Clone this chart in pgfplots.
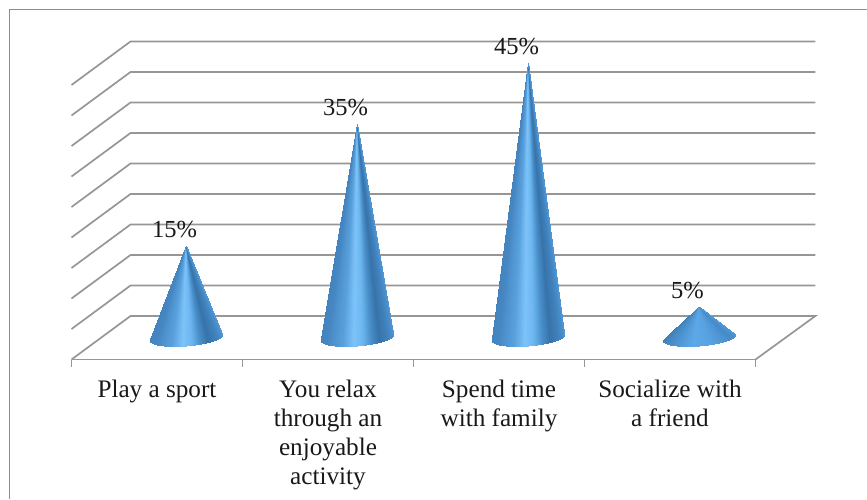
\documentclass[border=0pt]{standalone}
\usepackage{fontspec}
\setmainfont{Liberation Serif}
\usepackage{pgfplots}
\usepackage{pgfplotstable}
\usepgfplotslibrary{patchplots}
\pgfplotsset{compat=1.18}

\definecolor{gridgray}{RGB}{150,150,150}
\definecolor{framegray}{RGB}{140,140,140}

% One unit cone: apex at w=1, base ring of radius 1 in the (u,v) floor plane.
% Four rows per facet (two base corners, apex twice); back facets come first.
\pgfplotstableread{
u v w c
0.943 0.332 0 1
0.651 0.759 0 0.833
0 0 1 0.833
0 0 1 1
0.651 0.759 0 0.833
0.184 0.983 0 0.667
0 0 1 0.667
0 0 1 0.833
0.184 0.983 0 0.667
-0.332 0.943 0 0.5
0 0 1 0.5
0 0 1 0.667
-0.332 0.943 0 0.5
-0.759 0.651 0 0.333
0 0 1 0.333
0 0 1 0.5
-0.759 0.651 0 0.333
-0.983 0.184 0 0.167
0 0 1 0.167
0 0 1 0.333
-0.983 0.184 0 0.167
-0.943 -0.332 0 0
0 0 1 0
0 0 1 0.167
-0.943 -0.332 0 0
-0.871 -0.491 0 0.056
0 0 1 0.056
0 0 1 0
-0.871 -0.491 0 0.056
-0.773 -0.635 0 0.111
0 0 1 0.111
0 0 1 0.056
-0.773 -0.635 0 0.111
-0.651 -0.759 0 0.167
0 0 1 0.167
0 0 1 0.111
-0.651 -0.759 0 0.167
-0.509 -0.861 0 0.222
0 0 1 0.222
0 0 1 0.167
-0.509 -0.861 0 0.222
-0.352 -0.936 0 0.278
0 0 1 0.278
0 0 1 0.222
-0.352 -0.936 0 0.278
-0.184 -0.983 0 0.333
0 0 1 0.333
0 0 1 0.278
-0.184 -0.983 0 0.333
-0.010 -1.000 0 0.389
0 0 1 0.389
0 0 1 0.333
-0.010 -1.000 0 0.389
0.163 -0.987 0 0.444
0 0 1 0.444
0 0 1 0.389
0.163 -0.987 0 0.444
0.332 -0.943 0 0.5
0 0 1 0.5
0 0 1 0.444
0.332 -0.943 0 0.5
0.491 -0.871 0 0.556
0 0 1 0.556
0 0 1 0.5
0.491 -0.871 0 0.556
0.635 -0.773 0 0.611
0 0 1 0.611
0 0 1 0.556
0.635 -0.773 0 0.611
0.759 -0.651 0 0.667
0 0 1 0.667
0 0 1 0.611
0.759 -0.651 0 0.667
0.861 -0.509 0 0.722
0 0 1 0.722
0 0 1 0.667
0.861 -0.509 0 0.722
0.936 -0.352 0 0.778
0 0 1 0.778
0 0 1 0.722
0.936 -0.352 0 0.778
0.983 -0.184 0 0.833
0 0 1 0.833
0 0 1 0.778
0.983 -0.184 0 0.833
1.000 -0.010 0 0.889
0 0 1 0.889
0 0 1 0.833
1.000 -0.010 0 0.889
0.987 0.163 0 0.944
0 0 1 0.944
0 0 1 0.889
0.987 0.163 0 0.944
0.943 0.332 0 1
0 0 1 1
0 0 1 0.944
}\conefacets

% Category centre and percentage of each cone
\pgfplotstableread{
cat value
0.5 15
1.5 35
2.5 45
3.5 5
}\conevalues

% Oblique depth: one depth unit moves 0.345 along x and 7.13 along y
\newcommand{\cone}[3]{%
  \addplot[patch, patch type=bilinear, shader=interp, colormap name=#3,
           point meta=\thisrow{c}]
    table[x expr={#1+0.2*\thisrow{u}+0.345*(0.5+0.2*\thisrow{v})},
          y expr={#2*\thisrow{w}+7.13*(0.5+0.2*\thisrow{v})}] {\conefacets};}
\newcommand{\wall}[2]{%
  \addplot[gridgray, line width=1.7pt, line join=miter]
    coordinates {(0,#1) (0.345,#2) (4.35,#2)};}

\begin{document}
\begin{tikzpicture}[x=1pt,y=1pt]
\useasboundingbox (0,0) rectangle (867,499);
\draw[framegray, line width=1pt] (9.5,0) -- (9.5,489.5) -- (867,489.5);
\begin{axis}[
  at={(71.5pt,139.5pt)}, anchor=south west,
  x=171pt, y=6.1pt,
  xmin=0, xmax=4, ymin=0, ymax=52,
  clip=false,
  axis y line=none,
  axis x line=bottom,
  x axis line style={-, gridgray, line width=1.7pt},
  xtick={0.5,1.5,2.5,3.5},
  xticklabels={Play a sport,
    {You relax\\through an\\enjoyable\\activity},
    {Spend time\\with family},
    {Socialize with\\a friend}},
  major tick length=0pt,
  extra x ticks={0,1,2,3,4},
  extra x tick labels={},
  extra x tick style={major tick length=7pt, tick align=outside,
    tick style={gridgray, line width=1pt}},
  xticklabel style={align=center, anchor=north, yshift=-16.5pt,
    font=\fontsize{25.2}{29}\selectfont, text=black!90},
  point meta min=0, point meta max=1,
  colormap={conemap}{[1pt]
    rgb255(0pt)=(66,130,188)
    rgb255(20pt)=(70,135,195)
    rgb255(37pt)=(88,160,220)
    rgb255(47pt)=(125,195,250)
    rgb255(55pt)=(108,182,240)
    rgb255(63pt)=(72,142,200)
    rgb255(71pt)=(55,115,170)
    rgb255(86pt)=(68,135,195)
    rgb255(100pt)=(80,150,210)},
  colormap={lowconemap}{[1pt]
    rgb255(0pt)=(62,122,180)
    rgb255(25pt)=(75,145,205)
    rgb255(45pt)=(92,168,232)
    rgb255(60pt)=(88,162,225)
    rgb255(85pt)=(70,138,200)
    rgb255(100pt)=(78,150,212)},
]
% floor and walls
\addplot[gridgray, line width=1.7pt, line join=miter]
  coordinates {(0,0) (0.345,7.13) (4.35,7.13) (4,0)};
\wall{5}{12.13}
\wall{10}{17.13}
\wall{15}{22.13}
\wall{20}{27.13}
\wall{25}{32.13}
\wall{30}{37.13}
\wall{35}{42.13}
\wall{40}{47.13}
\wall{45}{52.13}
% cones
\cone{0.5}{15}{conemap}
\cone{1.5}{35}{conemap}
\cone{2.5}{45}{conemap}
\cone{3.5}{5}{lowconemap}
% percentage labels above the apexes
\addplot[draw=none, mark=none, point meta=explicit,
  nodes near coords={\pgfmathprintnumber[assume math mode=true]{\pgfplotspointmeta}\%},
  every node near coord/.style={anchor=center, xshift=-12pt, yshift=16.5pt,
    font=\fontsize{24.5}{29}\selectfont, text=black!90}]
  table[x expr={\thisrow{cat}+0.1725}, y expr={\thisrow{value}+3.565},
        meta=value] {\conevalues};
\end{axis}
\end{tikzpicture}
\end{document}
